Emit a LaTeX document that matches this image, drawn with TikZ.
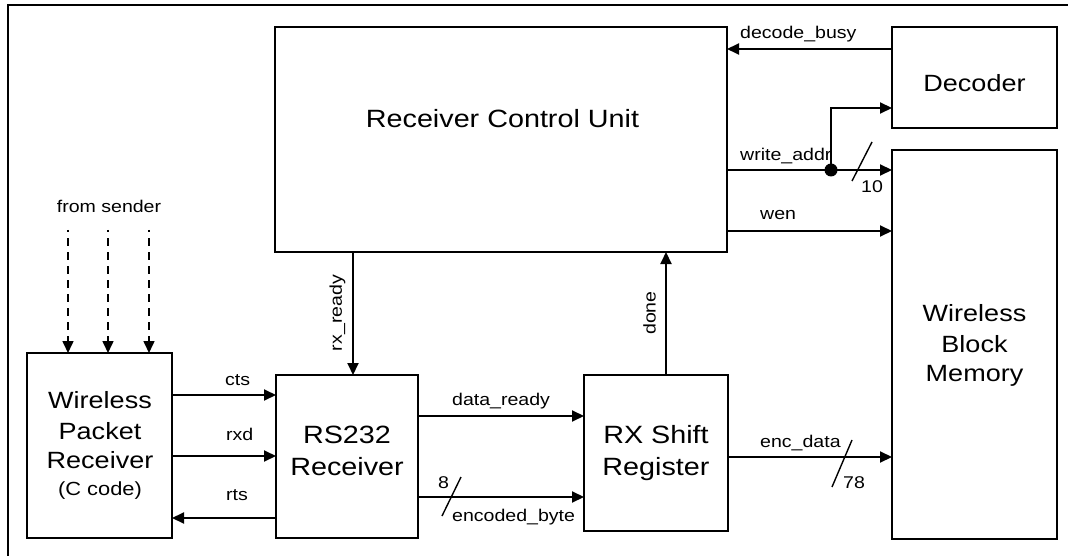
\documentclass[tikz,border=0pt]{standalone}
\usepackage{fontspec}
\setmainfont{Liberation Sans}[FakeStretch=1.15]
\usetikzlibrary{arrows.meta}

\tikzset{
  blk/.style={draw, line width=1.6pt, inner sep=0pt, outer sep=0pt, anchor=north west},
  sig/.style={line width=2pt, -{Triangle[length=12pt,width=11pt]}},
  dsig/.style={line width=1.6pt, dash pattern=on 8pt off 6pt, dash phase=6pt,
               -{Triangle[length=12pt,width=11pt]}},
  frame/.style={line width=2pt},
  bus/.style={line width=1.4pt},
  big/.style={inner sep=0pt, anchor=base, font=\fontsize{23.5}{28}\selectfont},
  bigger/.style={inner sep=0pt, anchor=base, font=\fontsize{25}{30}\selectfont},
  lbl/.style={inner sep=0pt, anchor=base west, font=\fontsize{17}{20}\selectfont},
}

\begin{document}
\begin{tikzpicture}[x=1pt, y=-1pt]
\useasboundingbox (0,0) rectangle (1068,556);

% outer frame
\coordinate (fbl) at (8,565);
\coordinate (ftl) at (8,5);
\coordinate (ftr) at (1075,5);
\draw[frame] (fbl) -- (ftl) -- (ftr);

% blocks
\node[blk, minimum width=452pt, minimum height=225pt] (rcu) at (275,27) {};
\node[blk, minimum width=165pt, minimum height=101pt] (dec) at (892,27) {};
\node[blk, minimum width=165pt, minimum height=389pt] (wbm) at (892,150) {};
\node[blk, minimum width=145pt, minimum height=185pt] (wpr) at (27,353) {};
\node[blk, minimum width=142pt, minimum height=163pt] (rs)  at (276,375) {};
\node[blk, minimum width=144pt, minimum height=156pt] (rx)  at (584,375) {};

% block titles
\node[bigger] (rcut) at (502.5,128) {Receiver Control Unit};
\node[big] (dect) at (974.5,92) {Decoder};
\node[big] (wbm1) at (974.5,321) {Wireless};
\node[big] (wbm2) at (974.5,352) {Block};
\node[big] (wbm3) at (974.5,381) {Memory};
\node[big] (wpr1) at (100,408) {Wireless};
\node[big] (wpr2) at (100,439) {Packet};
\node[big] (wpr3) at (100,468) {Receiver};
\node[inner sep=0pt, anchor=base, font=\fontsize{19}{23}\selectfont] (wpr4) at (100,495) {(C code)};
\node[bigger] (rs1) at (347,443) {RS232};
\node[bigger] (rs2) at (347,475) {Receiver};
\node[bigger] (rx1) at (656,443) {RX Shift};
\node[bigger] (rx2) at (656,475) {Register};

% decoder / memory side
\draw[sig] (dec.west |- 0,49) -- (rcu.east |- 0,49);
\node[lbl] (l_busy) at (740,39) {decode\_busy};

\coordinate (j) at (831,170);
\draw[sig] (rcu.east |- j) -- (wbm.west |- j);
\draw[sig] (j) |- (dec.west |- 0,108);
\fill (j) circle (6.5pt);
\node[lbl] (l_waddr) at (740,161) {write\_addr};
\coordinate (s10a) at (852,181);
\coordinate (s10b) at (872,142);
\draw[bus] (s10a) -- (s10b);
\node[lbl] (l_10) at (861,193) {10};

\draw[sig] (rcu.east |- 0,231) -- (wbm.west |- 0,231);
\node[lbl] (l_wen) at (760,220) {wen};

% control unit handshakes
\draw[sig] (353,0 |- rcu.south) -- (353,0 |- rs.north);
\node[inner sep=0pt, rotate=90, font=\fontsize{17}{20}\selectfont] (l_rxr) at (337.5,313) {rx\_ready};
\draw[sig] (666,0 |- rx.north) -- (666,0 |- rcu.south);
\node[inner sep=0pt, rotate=90, font=\fontsize{17}{20}\selectfont] (l_done) at (649.5,313) {done};

% packet receiver to RS232
\draw[sig] (wpr.east |- 0,395) -- (rs.west |- 0,395);
\node[lbl] (l_cts) at (225,385) {cts};
\draw[sig] (wpr.east |- 0,456) -- (rs.west |- 0,456);
\node[lbl] (l_rxd) at (226,440) {rxd};
\draw[sig] (rs.west |- 0,518) -- (wpr.east |- 0,518);
\node[lbl] (l_rts) at (226,500) {rts};

% RS232 to shift register
\draw[sig] (rs.east |- 0,416) -- (rx.west |- 0,416);
\node[lbl] (l_dr) at (452,405) {data\_ready};
\draw[sig] (rs.east |- 0,497) -- (rx.west |- 0,497);
\coordinate (s8a) at (442,516);
\coordinate (s8b) at (461,477);
\draw[bus] (s8a) -- (s8b);
\node[lbl] (l_8) at (438,488) {8};
\node[lbl] (l_eb) at (452,521) {encoded\_byte};

% shift register to memory
\draw[sig] (rx.east |- 0,457) -- (wbm.west |- 0,457);
\node[lbl] (l_ed) at (760,447) {enc\_data};
\coordinate (s78a) at (832,487);
\coordinate (s78b) at (852,440);
\draw[bus] (s78a) -- (s78b);
\node[lbl] (l_78) at (843,488) {78};

% incoming wireless packets
\node[inner sep=0pt, anchor=base, font=\fontsize{17}{20}\selectfont] (l_from) at (109,213) {from sender};
\coordinate (fs1) at (68,230);
\coordinate (fs2) at (108,230);
\coordinate (fs3) at (149,230);
\draw[dsig] (fs1) -- (fs1 |- wpr.north);
\draw[dsig] (fs2) -- (fs2 |- wpr.north);
\draw[dsig] (fs3) -- (fs3 |- wpr.north);
\end{tikzpicture}
\end{document}
